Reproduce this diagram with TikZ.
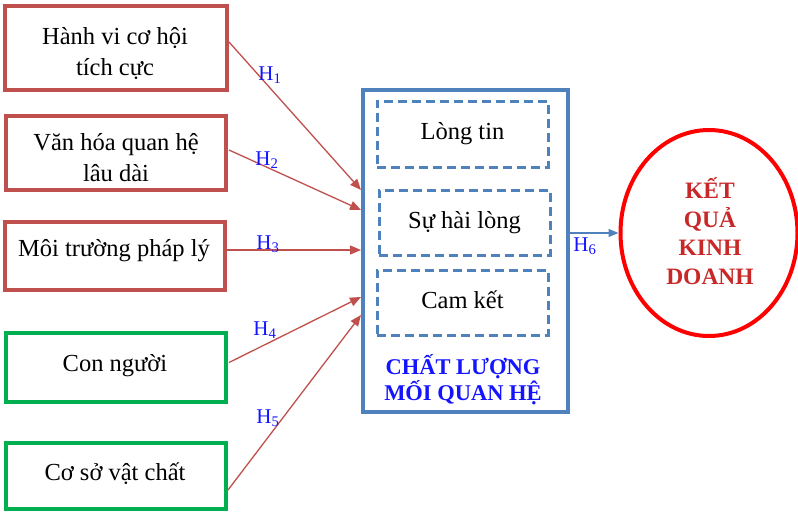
\documentclass[tikz,border=0pt]{standalone}
\usepackage{fontspec}
\setmainfont{Liberation Serif}
\usetikzlibrary{arrows.meta,shapes.geometric,calc}
\definecolor{boxred}{RGB}{192,80,77}
\definecolor{boxgreen}{RGB}{0,176,80}
\definecolor{boxblue}{RGB}{79,129,189}
\definecolor{lblblue}{RGB}{20,20,255}
\definecolor{outred}{RGB}{255,0,0}
\definecolor{outtext}{RGB}{200,40,40}
\begin{document}
\begin{tikzpicture}[x=1pt,y=-1pt,
  factor/.style={draw, line width=4pt, rectangle, inner sep=0pt},
  redbox/.style={factor, draw=boxred},
  greenbox/.style={factor, draw=boxgreen},
  factortext/.style={align=center, inner sep=0pt, font=\fontsize{24.5}{31.5}\selectfont},
  mainbox/.style={draw=boxblue, line width=4.5pt, rectangle},
  dimbox/.style={draw=boxblue, line width=3pt, dashed, dash pattern=on 9pt off 5pt, rectangle,
    font=\fontsize{24.5}{28}\selectfont},
  hyp/.style={draw=boxred, line width=1.3pt, -{Triangle[length=11pt,width=9pt]}},
  hlabel/.style={text=lblblue, font=\fontsize{21}{24}\selectfont, inner sep=0pt},
  outcome/.style={draw=outred, line width=4pt, ellipse}
]
\useasboundingbox (0,0) rectangle (798,512);

% factor boxes
\node[redbox, minimum width=222pt, minimum height=84pt] (b1) at (116,48) {};
\node[redbox, minimum width=220pt, minimum height=74pt] (b2) at (116,153) {};
\node[redbox, minimum width=220pt, minimum height=68pt] (b3) at (115,256) {};
\node[greenbox, minimum width=220pt, minimum height=69pt] (b4) at (116,367.5) {};
\node[greenbox, minimum width=220pt, minimum height=66pt] (b5) at (116,476) {};
\node[factortext] (b1t) at (115,53.5) {Hành vi cơ hội\\tích cực};
\node[factortext] (b2t) at (116,157.5) {Văn hóa quan hệ\\lâu dài};
\node[factortext] (b3t) at (114,251) {Môi trường pháp lý};
\node[factortext] (b4t) at (115,365.5) {Con người};
\node[factortext] (b5t) at (115,474) {Cơ sở vật chất};

% main box
\node[mainbox, minimum width=205pt, minimum height=322pt] (main) at (465.5,251) {};
\node[dimbox, minimum width=171pt, minimum height=66pt] (d1) at (462.5,134) {Lòng tin};
\node[dimbox, minimum width=171pt, minimum height=65pt] (d2) at (464.5,222.5) {Sự hài lòng};
\node[dimbox, minimum width=171pt, minimum height=65pt] (d3) at (462.5,302.5) {};
\node[font=\fontsize{24.5}{28}\selectfont] (d3t) at (462.5,299.5) {Cam kết};
\node[text=lblblue, align=center, font=\bfseries\fontsize{22.5}{26}\selectfont] (title) at (463,380) {CHẤT LƯỢNG\\MỐI QUAN HỆ};

% outcome
\node[outcome, minimum width=177pt, minimum height=206pt] (out) at (709,233) {};
\node[text=outtext, align=center, font=\bfseries\fontsize{23.5}{28.5}\selectfont] (outtxt) at (710,231) {KẾT\\QUẢ\\KINH\\DOANH};

% target coordinates on the main box
\coordinate (t1) at (361,190);
\coordinate (t2) at (361,210);
\coordinate (t3) at (361,250);
\coordinate (t4) at (361,297);
\coordinate (t5) at (361,315);
\coordinate (s1) at ($(b1.east)+(0,-6)$);
\coordinate (s2) at ($(b2.east)+(1,-3)$);
\coordinate (s3) at ($(b3.east)+(0,-6)$);
\coordinate (s4) at ($(b4.east)+(1,-5)$);
\coordinate (s5) at ($(b5.east)+(0,14)$);

\draw[hyp] (s1) -- (t1);
\draw[hyp] (s2) -- (t2);
\draw[hyp] (s3) -- (t3);
\draw[hyp] (s4) -- (t4);
\draw[hyp] (s5) -- (t5);
\draw[draw=boxblue, line width=1.3pt, -{Triangle[length=10pt,width=8pt]}] (main.east |- out.west) -- (out.west);

\node[hlabel] (h1) at (270,75) {H\textsubscript{1}};
\node[hlabel] (h2) at (267,160) {H\textsubscript{2}};
\node[hlabel] (h3) at (268,244) {H\textsubscript{3}};
\node[hlabel] (h4) at (265,330) {H\textsubscript{4}};
\node[hlabel] (h5) at (268,418) {H\textsubscript{5}};
\node[hlabel] (h6) at (585,246) {H\textsubscript{6}};
\end{tikzpicture}
\end{document}
